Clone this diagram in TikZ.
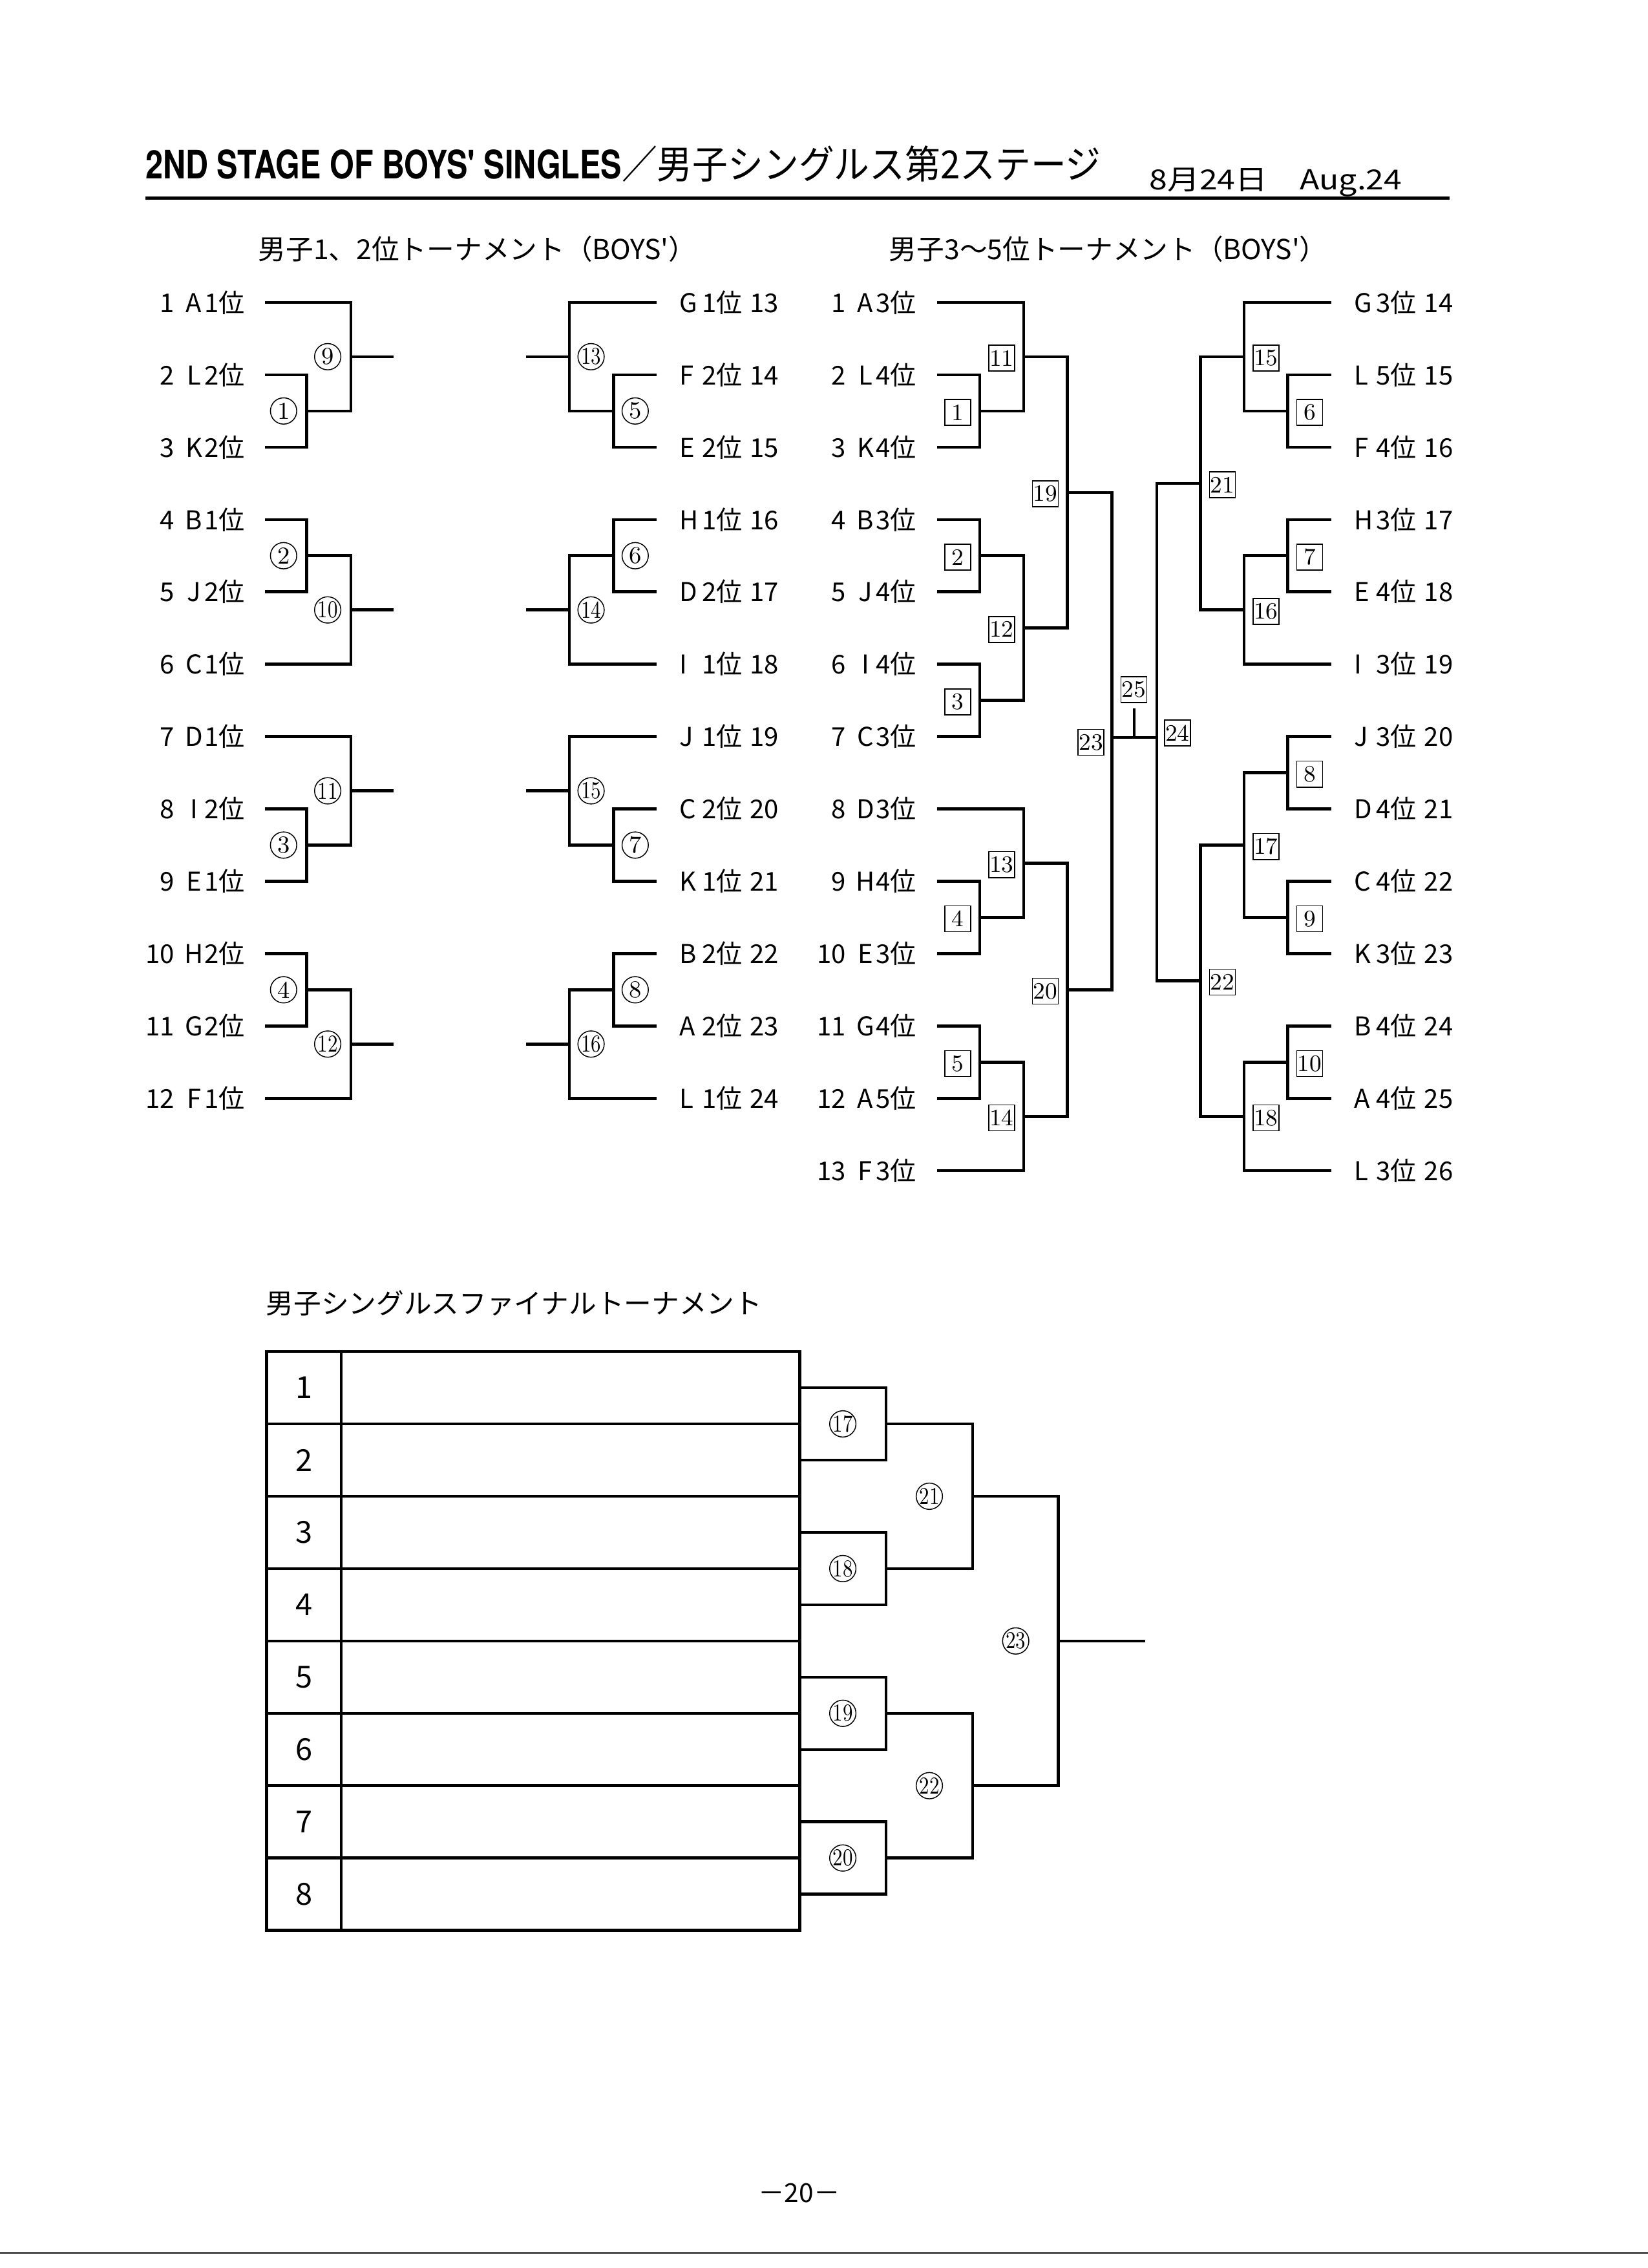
\documentclass[tikz,border=0pt]{standalone}
\usepackage{fontspec}
\newfontfamily\jp{Noto Sans CJK JP}
\newfontfamily\jpwide[FakeStretch=1.17]{Noto Sans CJK JP}
\newfontfamily\jptitle[FakeStretch=0.91]{Noto Sans CJK JP}
\newfontfamily\heros[FakeStretch=0.8]{TeX Gyre Heros}
\newcommand\cnum[1]{\ifnum#1>9 \scalebox{0.8}[1]{#1}\else #1\fi}
\newcommand\LL[3]{#1\hspace{0.35em}\makebox[0.8em][c]{#2}#3位}
\newcommand\RR[3]{\makebox[0.85em][l]{#1}#2位\hspace{0.3em}#3}
\begin{document}
\begin{tikzpicture}[x=0.018437cm, y=-0.018437cm,
  lbl/.style={font=\jp\fontsize{9.4}{11}\selectfont, inner sep=0pt},
  circ/.style={circle, draw, line width=0.35pt, minimum size=0.335cm, inner sep=0pt, fill=white, font=\fontsize{8.8}{9}\selectfont},
  boxn/.style={rectangle, draw, line width=0.35pt, minimum width=0.33cm, minimum height=0.33cm, inner sep=0pt, fill=white, font=\fontsize{8.5}{9}\selectfont},
  br/.style={line width=1.05pt},
  numcell/.style={draw, line width=1.05pt, minimum width=0.95319cm, minimum height=0.92185cm, inner sep=0pt, outer sep=0pt, font=\jp\fontsize{11}{12}\selectfont},
  namecell/.style={draw, line width=1.05pt, minimum width=5.8408cm, minimum height=0.92185cm, inner sep=0pt, outer sep=0pt},
  head/.style={font=\jp\fontsize{10}{12}\selectfont, inner sep=0pt, anchor=base west}]
\useasboundingbox (0,0) rectangle (1139,1567.35);

% ---------- title ----------
\node[inner sep=0pt, anchor=base west] (title) at (100.3,123.5)
  {\heros\bfseries\fontsize{14.2}{16}\selectfont 2ND STAGE OF BOYS' SINGLES\jptitle\mdseries\fontsize{14.1}{16}\selectfont ／男子シングルス第2ステージ};
\node[inner sep=0pt, anchor=base west] (date) at (794,131)
  {\jpwide\fontsize{10}{12}\selectfont 8月24日　Aug.24};
\coordinate (rl) at (100.3,136.8);
\coordinate (rr) at (1001.7,136.8);
\draw[line width=1.3pt] (rl) -- (rr);

\node[head] (h1) at (178.2,179.5) {男子1、2位トーナメント（BOYS'）};
\node[head] (h2) at (614.2,179.5) {男子3～5位トーナメント（BOYS'）};

% ---------- bracket 1, left ----------
\foreach \i/\l/\r in {1/A/1,2/L/2,3/K/2,4/B/1,5/J/2,6/C/1,7/D/1,8/I/2,9/E/1,10/H/2,11/G/2,12/F/1}{
  \node[lbl, anchor=east] (A\i) at (169.5,{159+50*\i}) {\LL{\i}{\l}{\r}};
  \coordinate (a\i) at (183,{159+50*\i});
}
\coordinate (m1) at (212,284);   \coordinate (m9) at (242.5,246.5);  \coordinate (o9) at (272,246.5);
\coordinate (m2) at (212,384);   \coordinate (m10) at (242.5,421.5); \coordinate (o10) at (272,421.5);
\coordinate (m3) at (212,584);   \coordinate (m11) at (242.5,546.5); \coordinate (o11) at (272,546.5);
\coordinate (m4) at (212,684);   \coordinate (m12) at (242.5,721.5); \coordinate (o12) at (272,721.5);
\draw[br] (a2) -| (m1) |- (a3);  \draw[br] (a1) -| (m9) |- (m1);  \draw[br] (m9) -- (o9);
\draw[br] (a4) -| (m2) |- (a5);  \draw[br] (m2) -| (m10) |- (a6); \draw[br] (m10) -- (o10);
\draw[br] (a8) -| (m3) |- (a9);  \draw[br] (a7) -| (m11) |- (m3); \draw[br] (m11) -- (o11);
\draw[br] (a10) -| (m4) |- (a11); \draw[br] (m4) -| (m12) |- (a12); \draw[br] (m12) -- (o12);

% ---------- bracket 1, right ----------
\foreach \i/\l/\r/\n in {1/G/1/13,2/F/2/14,3/E/2/15,4/H/1/16,5/D/2/17,6/I/1/18,7/J/1/19,8/C/2/20,9/K/1/21,10/B/2/22,11/A/2/23,12/L/1/24}{
  \node[lbl, anchor=west] (B\i) at (469.5,{159+50*\i}) {\RR{\l}{\r}{\n}};
  \coordinate (b\i) at (454,{159+50*\i});
}
\coordinate (m5) at (424,284);   \coordinate (m13) at (393.5,246.5); \coordinate (o13) at (363.5,246.5);
\coordinate (m6) at (424,384);   \coordinate (m14) at (393.5,421.5); \coordinate (o14) at (363.5,421.5);
\coordinate (m7) at (424,584);   \coordinate (m15) at (393.5,546.5); \coordinate (o15) at (363.5,546.5);
\coordinate (m8) at (424,684);   \coordinate (m16) at (393.5,721.5); \coordinate (o16) at (363.5,721.5);
\draw[br] (b2) -| (m5) |- (b3);  \draw[br] (b1) -| (m13) |- (m5); \draw[br] (m13) -- (o13);
\draw[br] (b4) -| (m6) |- (b5);  \draw[br] (m6) -| (m14) |- (b6); \draw[br] (m14) -- (o14);
\draw[br] (b8) -| (m7) |- (b9);  \draw[br] (b7) -| (m15) |- (m7); \draw[br] (m15) -- (o15);
\draw[br] (b10) -| (m8) |- (b11); \draw[br] (m8) -| (m16) |- (b12); \draw[br] (m16) -- (o16);

\foreach \k/\x/\y in {1/196/284,9/226.5/246.5,2/196/384,10/226.5/421.5,3/196/584,11/226.5/546.5,4/196/684,12/226.5/721.5,
                      5/439/284,13/408.5/246.5,6/439/384,14/408.5/421.5,7/439/584,15/408.5/546.5,8/439/684,16/408.5/721.5}{
  \node[circ] (cm\k) at (\x,\y) {\cnum{\k}};
}

% ---------- bracket 2, left ----------
\foreach \i/\l/\r in {1/A/3,2/L/4,3/K/4,4/B/3,5/J/4,6/I/4,7/C/3,8/D/3,9/H/4,10/E/3,11/G/4,12/A/5,13/F/3}{
  \node[lbl, anchor=east] (C\i) at (633.5,{159+50*\i}) {\LL{\i}{\l}{\r}};
  \coordinate (c\i) at (647.5,{159+50*\i});
}
\coordinate (n1) at (677.2,284);
\coordinate (n11) at (707.5,246.5);
\coordinate (n2) at (677.2,384);
\coordinate (n3) at (677.2,484);
\coordinate (n12) at (707.5,434);
\coordinate (n19) at (737.7,340.25);
\coordinate (n4) at (677.2,634);
\coordinate (n13) at (707.5,596.5);
\coordinate (n5) at (677.2,734);
\coordinate (n14) at (707.5,771.5);
\coordinate (n20) at (737.7,684);
\coordinate (f23) at (768.5,509.6);
\draw[br] (c2) -| (n1) |- (c3);
\draw[br] (c1) -| (n11) |- (n1);
\draw[br] (c4) -| (n2) |- (c5);
\draw[br] (c6) -| (n3) |- (c7);
\draw[br] (n2) -| (n12) |- (n3);
\draw[br] (n11) -| (n19) |- (n12);
\draw[br] (c9) -| (n4) |- (c10);
\draw[br] (c8) -| (n13) |- (n4);
\draw[br] (c11) -| (n5) |- (c12);
\draw[br] (n5) -| (n14) |- (c13);
\draw[br] (n13) -| (n20) |- (n14);
\draw[br] (n19) -| (f23) |- (n20);

% ---------- bracket 2, right ----------
\foreach \i/\l/\r/\n in {1/G/3/14,2/L/5/15,3/F/4/16,4/H/3/17,5/E/4/18,6/I/3/19,7/J/3/20,8/D/4/21,9/C/4/22,10/K/3/23,11/B/4/24,12/A/4/25,13/L/3/26}{
  \node[lbl, anchor=west] (D\i) at (935.5,{159+50*\i}) {\RR{\l}{\r}{\n}};
  \coordinate (d\i) at (920,{159+50*\i});
}
\coordinate (p6) at (890,284);
\coordinate (p15) at (859.8,246.5);
\coordinate (p7) at (890,384);
\coordinate (p16) at (859.8,421.5);
\coordinate (p21) at (829.6,334);
\coordinate (p8) at (890,534);
\coordinate (p9) at (890,634);
\coordinate (p17) at (859.8,584);
\coordinate (p10) at (890,734);
\coordinate (p18) at (859.8,771.5);
\coordinate (p22) at (829.6,677.75);
\coordinate (f24) at (799.5,509.6);
\draw[br] (d2) -| (p6) |- (d3);
\draw[br] (d1) -| (p15) |- (p6);
\draw[br] (d4) -| (p7) |- (d5);
\draw[br] (p7) -| (p16) |- (d6);
\draw[br] (p15) -| (p21) |- (p16);
\draw[br] (d7) -| (p8) |- (d8);
\draw[br] (d9) -| (p9) |- (d10);
\draw[br] (p8) -| (p17) |- (p9);
\draw[br] (d11) -| (p10) |- (d12);
\draw[br] (p10) -| (p18) |- (d13);
\draw[br] (p17) -| (p22) |- (p18);
\draw[br] (p21) -| (f24) |- (p22);
\coordinate (fc) at (784,509.6);
\coordinate (ft) at (784,489.4);
\draw[br] (f23) -- (f24);
\draw[br] (fc) -- (ft);

\foreach \k/\x/\y in {1/662/285,11/692.3/247.5,2/662/385,3/662/485,12/692.3/435,19/722.5/341.25,
                      13/692.3/597.5,4/662/635,5/662/735,14/692.3/772.5,20/722.5/685,23/754/513,
                      6/905.2/285,15/875/247.5,7/905.2/385,16/875/422.5,21/844.8/335,8/905.2/535,
                      9/905.2/635,17/875/585,10/905.2/735,18/875/772.5,22/844.8/678.75,24/813.8/506.6,
                      25/783.7/476.5}{
  \node[boxn] (bx\k) at (\x,\y) {\k};
}

% ---------- final tournament ----------
\node[head] (h3) at (183.5,908) {男子シングルスファイナルトーナメント};
\foreach \k in {1,...,8}{
  \node[numcell] (nc\k) at (210.05,{909+50*\k}) {\k};
  \node[namecell] (rc\k) at (394.3,{909+50*\k}) {};
}
\coordinate (q17) at (612.4,984);
\coordinate (q18) at (612.4,1084);
\coordinate (q19) at (612.4,1184);
\coordinate (q20) at (612.4,1284);
\coordinate (q21) at (672.2,1034);
\coordinate (q22) at (672.2,1234);
\coordinate (q23) at (731.5,1134);
\coordinate (qo) at (791.4,1134);
\draw[br] (rc1.east) -| (q17) |- (rc2.east);
\draw[br] (rc3.east) -| (q18) |- (rc4.east);
\draw[br] (rc5.east) -| (q19) |- (rc6.east);
\draw[br] (rc7.east) -| (q20) |- (rc8.east);
\draw[br] (q17) -| (q21) |- (q18);
\draw[br] (q19) -| (q22) |- (q20);
\draw[br] (q21) -| (q23) |- (q22);
\draw[br] (q23) -- (qo);
\foreach \k/\x/\y in {17/582.5/984,18/582.5/1084,19/582.5/1184,20/582.5/1284,21/642.3/1034,22/642.3/1234,23/702/1134}{
  \node[circ] (fc\k) at (\x,\y) {\cnum{\k}};
}

% ---------- page number and scan edge ----------
\node[inner sep=0pt, anchor=base] (pg) at (552.3,1522) {\jp\fontsize{9.5}{11}\selectfont －20－};
\coordinate (sl) at (0,1556.8);
\coordinate (sr) at (1139,1556.8);
\draw[line width=0.9pt, black!70] (sl) -- (sr);
\end{tikzpicture}
\end{document}
